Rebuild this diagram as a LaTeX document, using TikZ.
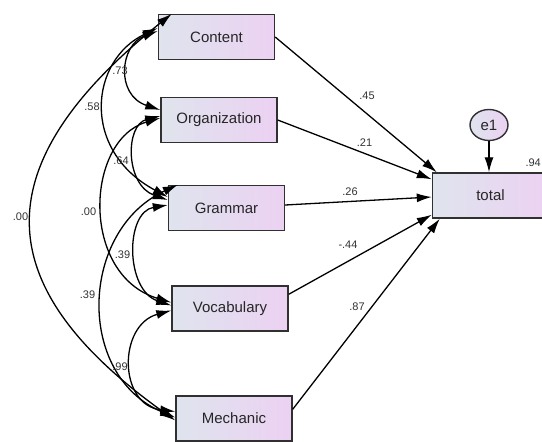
\documentclass[tikz,border=0pt]{standalone}
\usepackage{fontspec}
\setmainfont{Liberation Sans}
\usetikzlibrary{arrows.meta,calc,shapes.geometric}
\definecolor{boxl}{HTML}{DFE4EE}
\definecolor{boxr}{HTML}{ECD1F2}
\definecolor{edge}{HTML}{303030}
\begin{document}
\begin{tikzpicture}[x=1pt,y=-1pt,
  var/.style={draw=edge,line width=1.4pt,left color=boxl,right color=boxr,
    minimum width=116pt,minimum height=45pt,inner sep=0pt,
    font=\fontsize{15}{18}\selectfont,text=black!85},
  err/.style={ellipse,draw=edge,line width=1.4pt,left color=boxl,right color=boxr,
    minimum width=38pt,minimum height=31pt,inner sep=0pt,
    font=\fontsize{15}{18}\selectfont,text=black!85},
  coef/.style={font=\fontsize{11}{13}\selectfont,text=black!80,inner sep=0pt},
  path/.style={draw=black,line width=1.3pt,-{Latex[length=15pt,width=9pt]}},
  cov/.style={draw=black,line width=1.3pt,{Latex[length=15pt,width=9pt]}-{Latex[length=15pt,width=9pt]}}
]
\useasboundingbox (0,0) rectangle (542,442);
\clip (0,0) rectangle (542,442);
\fill[white] (0,0) rectangle (542,442);

% observed variables
\node[var] (content) at (216.5,37) {Content};
\node[var] (org)     at (219,120)  {Organization};
\node[var] (gram)    at (226.5,208) {Grammar};
\node[var] (vocab)   at (230,308.5) {Vocabulary};
\node[var] (mech)    at (234,418.5) {Mechanic};
\node[var] (total)   at (490.5,195.5) {total};
\node[err] (e1)      at (489,125) {e1};

% regression paths
\draw[path] (content.east) -- ($(total.north west)+(5,0)$);
\draw[path] (org.east) -- ($(total.north west)+(0,7)$);
\draw[path] ($(gram.east)+(0,-3)$) -- ($(total.west)+(0,1.5)$);
\draw[path] ($(vocab.north east)+(0,9)$) -- ($(total.south west)+(0,-4)$);
\draw[path] ($(mech.north east)+(0,14)$) -- ($(total.south west)+(8,0)$);
\draw[path] (e1.south) -- (total.north -| e1.south);

% covariances
\draw[cov] ($(content.north west)+(14,0)$) .. controls (-17,165) and (-13,286) .. ($(mech.west)+(0,2)$);
\draw[cov] ($(content.west)+(0,-9)$) .. controls (90,60) and (80,150) .. ($(gram.west)+(0,-11)$);
\draw[cov] ($(content.west)+(0,-6)$) .. controls (120,45) and (115,95) .. ($(org.west)+(0,-10)$);
\draw[cov] ($(org.west)+(0,-4)$) .. controls (125,125) and (125,185) .. ($(gram.west)+(0,-8)$);
\draw[cov] ($(org.west)+(0,-2)$) .. controls (85,140) and (80,275) .. ($(vocab.west)+(0,-6)$);
\draw[cov] ($(gram.west)+(0,-3)$) .. controls (125,212) and (125,290) .. ($(vocab.west)+(0,-3)$);
\draw[cov] ($(gram.north west)+(10,0)$) .. controls (80,230) and (75,375) .. ($(mech.west)+(0,-1)$);
\draw[cov] ($(vocab.west)+(0,2)$) .. controls (118,325) and (118,405) .. ($(mech.west)+(0,-7)$);

% coefficients
\node[coef] (c45) at (367,96) {.45};
\node[coef] (c21) at (364.5,143) {.21};
\node[coef] (c26) at (350,192) {.26};
\node[coef] (c44) at (348,245) {-.44};
\node[coef] (c87) at (357,307) {.87};
\node[coef,anchor=east] (r2) at (541,163) {.94};
\node[coef] (k73) at (120,71) {.73};
\node[coef] (k58) at (92,107) {.58};
\node[coef] (k64) at (121,161) {.64};
\node[coef] (k00a) at (20.5,217) {.00};
\node[coef] (k00b) at (88.5,212) {.00};
\node[coef] (k39a) at (122.5,255) {.39};
\node[coef] (k39b) at (87.5,295) {.39};
\node[coef] (k99) at (120,367) {.99};
\end{tikzpicture}
\end{document}
